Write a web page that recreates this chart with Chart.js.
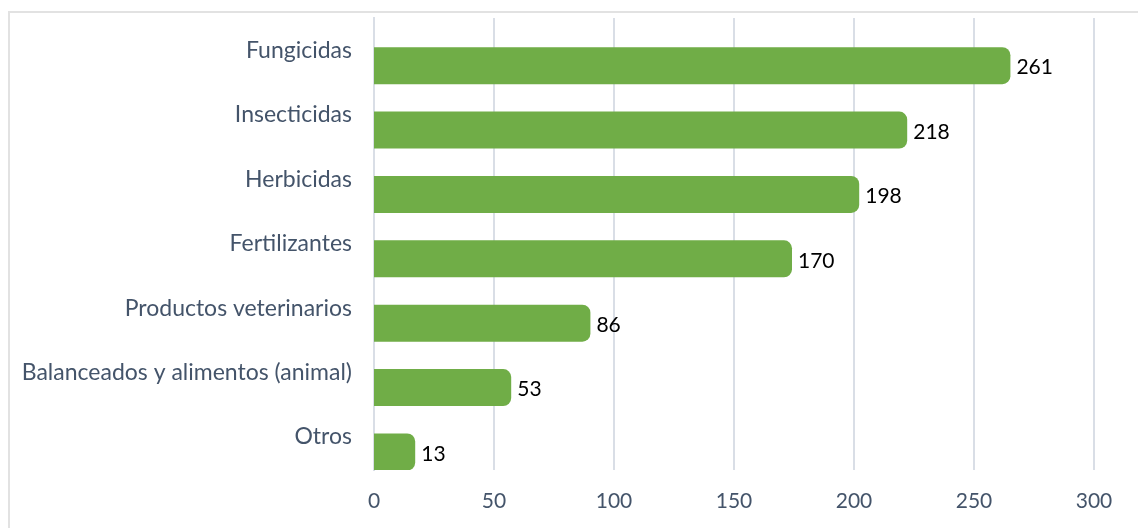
<!DOCTYPE html>
<html>
<head>
<meta charset="utf-8">
<script src="https://cdn.jsdelivr.net/npm/chart.js@4/dist/chart.umd.min.js"></script>
<style>
    html, body { margin: 0; padding: 0; background: #fff; }
    #wrap { position: relative; width: 1138px; height: 528px; }
    #frame {
        position: absolute; left: 8px; top: 11px; right: 0; bottom: 0;
        border-top: 2px solid #e2e2e2; border-left: 2px solid #e2e2e2;
    }
    canvas { position: absolute; left: 0; top: 0; }
</style>
</head>
<body>
<div id="wrap">
    <div id="frame"></div>
    <canvas id="productsChart" width="1138" height="528"></canvas>
</div>
<script>
// Data
const categories = [
    'Fungicidas',
    'Insecticidas',
    'Herbicidas',
    'Fertilizantes',
    'Productos veterinarios',
    'Balanceados y alimentos (animal)',
    'Otros'
];
const values = [261, 218, 198, 170, 86, 53, 13];
const xTicks = [0, 50, 100, 150, 200, 250, 300];

const labelColor = '#44546a';
const gridColor = '#d9dee6';
const fontFamily = 'Lato, "Open Sans", sans-serif';

Chart.defaults.font.family = fontFamily;

// Value labels at the end of each bar
const valueLabels = {
    id: 'valueLabels',
    afterDatasetsDraw(chart) {
        const ctx = chart.ctx;
        const meta = chart.getDatasetMeta(0);
        ctx.save();
        ctx.font = '21px ' + fontFamily;
        ctx.fillStyle = '#000';
        ctx.textAlign = 'left';
        ctx.textBaseline = 'middle';
        meta.data.forEach((bar, i) => {
            ctx.fillText(String(values[i]), bar.x + 16, bar.y + 2);
        });
        ctx.restore();
    }
};

const chart = new Chart(document.getElementById('productsChart'), {
    type: 'bar',
    data: {
        datasets: [{
            data: values.map((v, i) => ({ x: v, y: i })),
            backgroundColor: '#70ad47',
            borderWidth: 0,
            borderRadius: 8,
            borderSkipped: 'start',
            inflateAmount: 10,
            barThickness: 17,
            clip: 0
        }]
    },
    options: {
        indexAxis: 'y',
        responsive: false,
        animation: false,
        layout: {
            padding: { top: 18, right: 44, left: 0, bottom: 0 }
        },
        plugins: {
            legend: { display: false },
            tooltip: { enabled: false }
        },
        scales: {
            x: {
                type: 'linear',
                min: 0,
                max: 300,
                afterBuildTicks: (scale) => {
                    scale.ticks = xTicks.map(v => ({ value: v }));
                },
                afterFit: (scale) => { scale.height = 58; },
                grid: {
                    color: gridColor,
                    lineWidth: 2,
                    drawTicks: false
                },
                border: { display: false },
                ticks: {
                    color: labelColor,
                    font: { size: 21 },
                    padding: 19
                }
            },
            y: {
                type: 'linear',
                reverse: true,
                offset: false,
                min: -0.74,
                max: 6.28,
                afterBuildTicks: (scale) => {
                    scale.ticks = categories.map((c, i) => ({ value: i }));
                },
                afterFit: (scale) => {
                    scale.width = 374;
                    scale.paddingTop = 0;
                    scale.paddingBottom = 0;
                },
                grid: { display: false, drawTicks: false },
                border: { display: true, color: gridColor, width: 2 },
                ticks: {
                    color: labelColor,
                    font: { size: 23 },
                    padding: 22,
                    labelOffset: -15,
                    callback: (value) => categories[value]
                }
            }
        }
    },
    plugins: [valueLabels]
});
</script>
</body>
</html>
